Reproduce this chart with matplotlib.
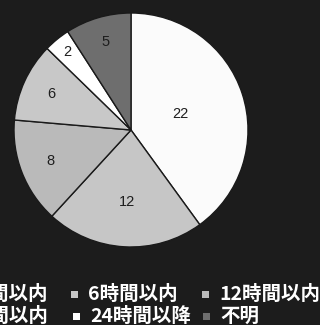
import matplotlib
matplotlib.use('Agg')
import matplotlib.pyplot as plt
import numpy as np

# response time breakdown (number of cases)
labels = ['3時間以内', '6時間以内', '12時間以内', '18時間以内', '24時間以降', '不明']
counts = [22, 12, 8, 6, 2, 5]
colors = ['#fbfbfb', '#c6c6c6', '#bababa', '#c8c8c8', '#ffffff', '#6e6e6e']
label_r = [0.44, 0.62, 0.74, 0.75, 0.86, 0.78]

bg = '#1c1c1c'
W, H = 320, 325

fig = plt.figure(figsize=(W / 100, H / 100), dpi=100, facecolor=bg)

# pie centred at (131,130) px, radius 117 px
cx, cy, r = 131, 130, 117
ax = fig.add_axes([(cx - r) / W, (H - cy - r) / H, 2 * r / W, 2 * r / H])
ax.set_facecolor(bg)
wedges, _ = ax.pie(counts, colors=colors, startangle=90, counterclock=False,
                   wedgeprops=dict(edgecolor='#1a1a1a', linewidth=1.0))
ax.set_xlim(-1, 1)
ax.set_ylim(-1, 1)
ax.axis('off')

for w, n, lr in zip(wedges, counts, label_r):
    mid = np.deg2rad((w.theta1 + w.theta2) / 2)
    ax.text(lr * np.cos(mid), lr * np.sin(mid), str(n), ha='center', va='center',
            fontsize=10.5, color='#1e1e1e', family=['Liberation Sans', 'DejaVu Sans'])

# legend, two rows of three, laid out by hand
jp = ['Noto Sans CJK JP', 'DejaVu Sans']
rows_y = [294, 316]
text_x = [None, 88, 219, None, 90, 220]
first_end = 48
fig.canvas.draw()
rend = fig.canvas.get_renderer()
for i, (lab, col) in enumerate(zip(labels, colors)):
    y = 1 - rows_y[i // 3] / H
    if text_x[i] is None:
        t = fig.text(first_end / W, y, lab, ha='right', va='center', color='white',
                     fontsize=14, family=jp, fontweight='bold')
        x0 = t.get_window_extent(rend).x0
    else:
        x0 = text_x[i]
        fig.text(x0 / W, y, lab, ha='left', va='center', color='white',
                 fontsize=14, family=jp, fontweight='bold')
    s = 7
    fig.patches.append(plt.Rectangle(((x0 - 14 - s / 2) / W, y - s / 2 / H), s / W, s / H,
                                     transform=fig.transFigure, facecolor=col,
                                     edgecolor='none'))

fig.savefig('out.png', dpi=100, facecolor=bg)
